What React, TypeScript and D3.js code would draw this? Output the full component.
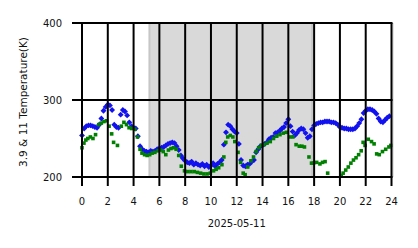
import React from "react";
import * as d3 from "d3";

// Blue series (3.9 µm), one value every 10 minutes from 00:00
const blueT: number[] = [
  254, 263, 266, 267, 267, 266,
  265, 264, 268, 276, 286, 291,
  294, 293, 287, 268, 265, 264,
  281, 287, 285, 280, 271, 266,
  264, 263, 253, 240, 236, 234,
  233, 232, 234, 233, 234, 236,
  237, 238, 239, 241, 243, 244,
  245, 244, 240, 235, 228, 224,
  221, 219, 218, 220, 216, 218,
  216, 215, 217, 214, 216, 213,
  215, 218, 214, 217, 219, 222,
  242, 258, 268, 266, 262, 259,
  257, 243, 222, 215, 214, 216,
  217, 220, 222, 232, 236, 240,
  241, 243, 245, 249, 251, 252,
  257, 258, 260, 263, 265, 270,
  275, 266, 259, 254, 257, 261,
  263, 262, 257, 251, 253, 262,
  267, 269, 270, 271, 271, 272,
  272, 272, 271, 271, 270, 268,
  265, 264, 263, 263, 262, 262,
  262, 263, 266, 270, 275, 283,
  286, 288, 288, 287, 285, 282,
  276, 272, 271, 274, 277, 279,
];
const blueH: number[] = blueT.map((_, i) => i / 6);

// Green series (11 µm): hours and temperatures
const greenH: number[] = [
  0.0, 0.15, 0.3, 0.45, 0.65, 0.85, 1.05, 1.3, 1.5, 1.7, 1.9, 2.1, 2.3, 2.45, 2.75,
  3.05, 3.25, 3.45, 3.65, 3.85, 4.1, 4.3, 4.5, 4.65, 4.85, 5.05, 5.25, 5.45, 5.65,
  5.9, 6.1, 6.3, 6.5, 6.7, 6.9, 7.1, 7.3, 7.5, 7.7, 7.95, 8.2, 8.45, 8.7, 8.95, 9.2,
  9.45, 9.7, 9.95, 10.2, 10.4, 10.6, 10.85, 11.0, 11.15, 11.3, 11.5, 11.7, 11.85,
  12.1, 12.3, 12.5, 12.65, 12.85, 13.1, 13.3, 13.5, 13.7, 13.9, 14.1, 14.35, 14.6,
  14.85, 15.1, 15.35, 15.6, 15.85, 16.1, 16.35, 16.6, 16.85, 17.05, 17.25, 17.6,
  17.8, 17.95, 18.2, 18.45, 18.65, 18.85, 19.05, 20.1, 20.25, 20.45, 20.65, 20.85,
  21.05, 21.25, 21.45, 21.65, 21.8, 21.95, 22.2, 22.45, 22.65, 22.85, 23.05, 23.3,
  23.55, 23.8, 23.95,
];
const greenT: number[] = [
  238, 244, 248, 250, 252, 250, 255, 268, 270, 272, 273, 266, 256, 245, 241,
  266, 271, 268, 264, 263, 262, 252, 236, 231, 229, 228, 229, 231, 232,
  234, 235, 233, 229, 235, 237, 238, 236, 228, 214, 208, 207, 207, 207, 206, 205,
  204, 204, 205, 208, 210, 212, 216, 226, 245, 252, 254, 252, 246,
  232, 219, 205, 203, 213, 221, 226, 233, 238, 241, 242, 244, 246,
  250, 253, 255, 257, 258, 252, 252, 242, 240, 240, 239, 226,
  218, 218, 219, 217, 219, 220, 205, 202, 205, 209, 213, 218,
  222, 225, 229, 234, 245, 241, 249, 246, 243, 230, 229, 233,
  236, 239, 241,
];

const xTicks: number[] = [0, 2, 4, 6, 8, 10, 12, 14, 16, 18, 20, 22, 24];
const yTicks: number[] = [200, 300, 400];
const nightSpan: number[] = [5.23, 17.85];
const xLabel = "2025-05-11";
const yLabel = "3.9 & 11 Temperature(K)";

export default function App() {
  const W = 418, H = 248;
  const x = d3.scaleLinear().domain([0, 24]).range([82, 391.5]);
  const y = d3.scaleLinear().domain([200, 400]).range([177, 23]);
  const diamond = d3.symbol().type(d3.symbolDiamond2).size(22)() as string;
  const square = d3.symbol().type(d3.symbolSquare).size(13)() as string;
  const font = "DejaVu Sans, sans-serif";
  return (
    <svg width={W} height={H} style={{ position: "absolute", left: 0, top: 0 }} fontFamily={font}>
      <rect x={0} y={0} width={W} height={H} fill="#fff" />
      <rect x={x(nightSpan[0])} y={y(400)} width={x(nightSpan[1]) - x(nightSpan[0])} height={y(200) - y(400)}
        fill="#d9d9d9" stroke="#c6c6c6" strokeWidth={2} />
      {blueH.map((h, i) => (
        <path key={"b" + i} d={diamond} transform={`translate(${x(h)},${y(blueT[i])})`} fill="#1212f0" />
      ))}
      {greenH.map((h, i) => (
        <path key={"g" + i} d={square} transform={`translate(${x(h)},${y(greenT[i])})`} fill="#008000" />
      ))}
      <line x1={393} x2={393} y1={y(400)} y2={y(200)} stroke="#ccc" strokeWidth={1} />
      {xTicks.map((t) => (
        <g key={"x" + t}>
          <line x1={x(t)} x2={x(t)} y1={y(400)} y2={186} stroke="#000" strokeWidth={2} />
          <text x={x(t)} y={205} textAnchor="middle" fontSize={10} fill="#111">{t}</text>
        </g>
      ))}
      {yTicks.map((t) => (
        <g key={"y" + t}>
          <line x1={72} x2={x(24) + 1} y1={y(t)} y2={y(t)} stroke="#000" strokeWidth={2} />
          <text x={62} y={y(t) + 3.5} textAnchor="end" fontSize={10} fill="#111">{t}</text>
        </g>
      ))}
      <text x={x(12)} y={227} textAnchor="middle" fontSize={10} fill="#111">{xLabel}</text>
      <text transform={`translate(27,${(y(400) + y(200)) / 2 + 2}) rotate(-90)`} textAnchor="middle" fontSize={10.5} fill="#111">{yLabel}</text>
    </svg>
  );
}
